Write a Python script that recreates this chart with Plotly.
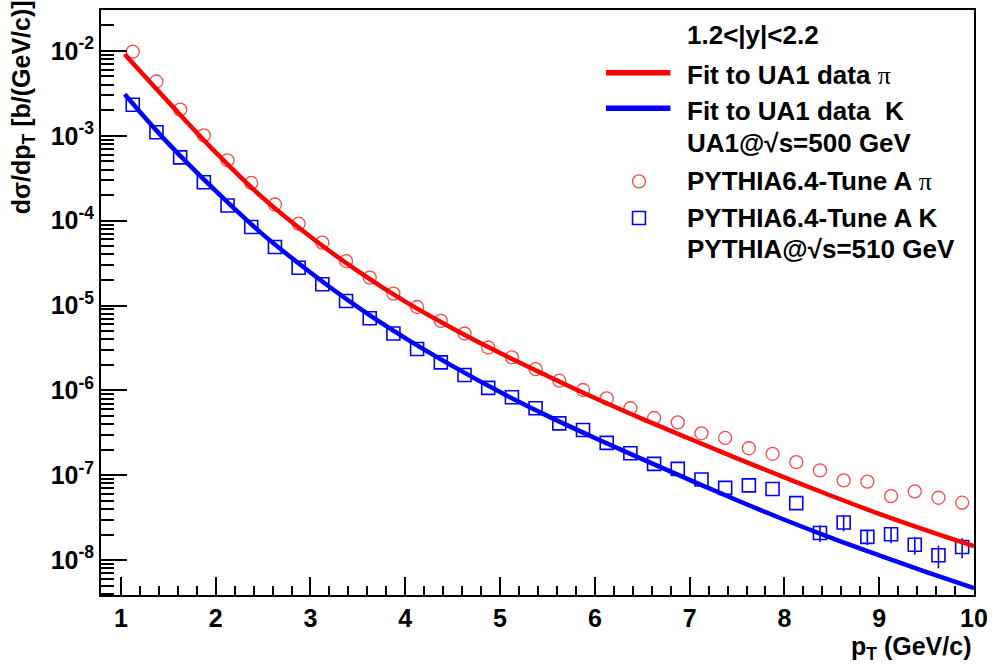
import plotly.graph_objects as go

# ---- PYTHIA 6.4 Tune A spectra (bin centres in pT, GeV/c) ----
pt = [1.125, 1.375, 1.625, 1.875, 2.125, 2.375, 2.625, 2.875, 3.125, 3.375,
      3.625, 3.875, 4.125, 4.375, 4.625, 4.875, 5.125, 5.375, 5.625, 5.875,
      6.125, 6.375, 6.625, 6.875, 7.125, 7.375, 7.625, 7.875, 8.125, 8.375,
      8.625, 8.875, 9.125, 9.375, 9.625, 9.875]

pythia_pi = [9.8e-3, 4.36e-3, 2.03e-3, 1.01e-3, 5.14e-4, 2.78e-4, 1.55e-4, 9.2e-5, 5.5e-5, 3.34e-5,
             2.13e-5, 1.38e-5, 9.6e-6, 6.6e-6, 4.68e-6, 3.2e-6, 2.45e-6, 1.78e-6, 1.30e-6, 1.01e-6,
             8.05e-7, 6.16e-7, 4.73e-7, 4.2e-7, 3.12e-7, 2.75e-7, 2.08e-7, 1.79e-7, 1.43e-7, 1.14e-7,
             8.7e-8, 8.4e-8, 5.68e-8, 6.45e-8, 5.43e-8, 4.75e-8]

pythia_k = [2.32e-3, 1.10e-3, 5.57e-4, 2.83e-4, 1.51e-4, 8.4e-5, 4.9e-5, 2.79e-5, 1.78e-5, 1.13e-5,
            7.08e-6, 4.68e-6, 3.07e-6, 2.14e-6, 1.52e-6, 1.07e-6, 8.3e-7, 6.15e-7, 4.09e-7, 3.42e-7,
            2.41e-7, 1.82e-7, 1.36e-7, 1.19e-7, 8.9e-8, 7.1e-8, 7.6e-8, 6.9e-8, 4.7e-8, 2.09e-8,
            2.78e-8, 1.88e-8, 2.02e-8, 1.52e-8, 1.14e-8, 1.43e-8]

pythia_k_err = [0, 0, 0, 0, 0, 0, 0, 0, 0, 0,
                0, 0, 0, 0, 0, 0, 0, 0, 0, 0,
                0, 0, 0, 0, 0, 0, 0, 0, 0, 4.6e-9,
                6.0e-9, 3.8e-9, 4.4e-9, 3.6e-9, 3.4e-9, 3.8e-9]

# ---- Fits to UA1 data (sampled along the fitted curves) ----
fit_pt = [1.04, 1.5, 2.0, 2.5, 3.0, 3.5, 4.0, 4.5, 5.0, 5.5,
          6.0, 6.5, 7.0, 7.5, 8.0, 8.5, 9.0, 9.5, 10.0]
fit_pi = [9.12e-3, 2.51e-3, 6.38e-4, 1.84e-4, 6.46e-5, 2.54e-5, 1.11e-5, 5.37e-6, 2.75e-6, 1.48e-6,
          8.13e-7, 4.62e-7, 2.69e-7, 1.58e-7, 9.44e-8, 5.69e-8, 3.51e-8, 2.24e-8, 1.46e-8]
fit_k = [3.09e-3, 8.13e-4, 2.24e-4, 6.84e-5, 2.45e-5, 9.55e-6, 4.12e-6, 1.93e-6, 9.55e-7, 5.01e-7,
         2.75e-7, 1.55e-7, 8.81e-8, 5.07e-8, 2.99e-8, 1.82e-8, 1.14e-8, 7.24e-9, 4.68e-9]

# ---- axis ticks ----
x_tick_vals = [1, 2, 3, 4, 5, 6, 7, 8, 9, 10]
y_tick_vals = [1e-8, 1e-7, 1e-6, 1e-5, 1e-4, 1e-3, 1e-2]
y_tick_text = ["10<sup>-8</sup>", "10<sup>-7</sup>", "10<sup>-6</sup>", "10<sup>-5</sup>",
               "10<sup>-4</sup>", "10<sup>-3</sup>", "10<sup>-2</sup>"]

RED = "#ff0000"
BLUE = "#0000ff"
FONT = "Liberation Sans"
W, H = 996, 669
ML, MR, MT, MB = 101, 15, 8, 74


def px(xp):
    return (xp - ML) / (W - ML - MR)


def py(yp):
    return (H - MB - yp) / (H - MT - MB)


fig = go.Figure()

fig.add_trace(go.Scatter(
    x=pt, y=pythia_pi, mode="markers", name="PYTHIA6.4-Tune A π",
    marker=dict(symbol="circle-open", size=13, color="rgba(255,40,40,0.85)",
                line=dict(width=1.3, color="rgba(255,40,40,0.85)")),
))
fig.add_trace(go.Scatter(
    x=pt, y=pythia_k, mode="markers", name="PYTHIA6.4-Tune A K",
    marker=dict(symbol="square-open", size=13, color=BLUE, line=dict(width=1.6, color=BLUE)),
    error_y=dict(type="data", array=pythia_k_err, visible=True, color=BLUE, thickness=1.6, width=0),
))
fig.add_trace(go.Scatter(
    x=fit_pt, y=fit_pi, mode="lines", name="Fit to UA1 data π",
    line=dict(color=RED, width=4.5, shape="spline", smoothing=1.0),
))
fig.add_trace(go.Scatter(
    x=fit_pt, y=fit_k, mode="lines", name="Fit to UA1 data K",
    line=dict(color=BLUE, width=4.5, shape="spline", smoothing=1.0),
))

axis_common = dict(
    showline=True, linecolor="black", linewidth=2, mirror=True,
    showgrid=False, zeroline=False, ticks="inside",
    tickcolor="black", tickwidth=1.5,
    tickfont=dict(family=FONT, size=25, color="black", weight="bold"),
)

fig.update_xaxes(
    range=[0.79, 10.0], tickmode="array", tickvals=x_tick_vals,
    ticklen=18,
    minor=dict(ticks="inside", ticklen=9, tickcolor="black", tickwidth=1.5,
               dtick=0.2, tick0=0, showgrid=False),
    **axis_common,
)
fig.update_yaxes(
    type="log", range=[-8.411, -1.518], tickmode="array",
    tickvals=y_tick_vals, ticktext=y_tick_text, ticklen=26,
    minor=dict(ticks="inside", ticklen=13, tickcolor="black", tickwidth=1.5,
               dtick="D1", showgrid=False),
    **axis_common,
)

annotations = []

# axis titles
annotations.append(dict(
    text="dσ/dp<sub>T</sub> [b/(GeV/c)]", xref="paper", yref="paper",
    x=px(22), y=py(106), textangle=-90, xanchor="center", yanchor="middle",
    showarrow=False, font=dict(family=FONT, size=25, color="black", weight="bold"),
))
annotations.append(dict(
    text="p<sub>T</sub> (GeV/c)", xref="paper", yref="paper",
    x=px(980), y=py(648), xanchor="right", yanchor="middle",
    showarrow=False, font=dict(family=FONT, size=25, color="black", weight="bold"),
))

# legend block
PI = "<span style='font-family:Liberation Serif;font-weight:normal'>π</span>"
legend_rows = [
    ("1.2&lt;|y|&lt;2.2", 33.3),
    ("Fit to UA1 data " + PI, 73.3),
    ("Fit to UA1 data\u00a0\u00a0K", 109.0),
    ("UA1@√s=500 GeV", 141.7),
    ("PYTHIA6.4-Tune A " + PI, 180.0),
    ("PYTHIA6.4-Tune A K", 216.7),
    ("PYTHIA@√s=510 GeV", 248.3),
]
for txt, yp in legend_rows:
    annotations.append(dict(
        text=txt, xref="paper", yref="paper", x=px(690), y=py(yp),
        xanchor="left", yanchor="middle", showarrow=False,
        font=dict(family=FONT, size=26, color="black", weight="bold"),
    ))

shapes = [
    dict(type="line", xref="paper", yref="paper", x0=px(610), x1=px(675),
         y0=py(71), y1=py(71), line=dict(color=RED, width=5.5)),
    dict(type="line", xref="paper", yref="paper", x0=px(610), x1=px(675),
         y0=py(106.7), y1=py(106.7), line=dict(color=BLUE, width=5.5)),
    dict(type="circle", xref="paper", yref="paper", x0=px(643.3 - 6.5), x1=px(643.3 + 6.5),
         y0=py(180 + 6.5), y1=py(180 - 6.5), line=dict(color="rgba(255,40,40,0.85)", width=1.3)),
    dict(type="rect", xref="paper", yref="paper", x0=px(643.3 - 6.5), x1=px(643.3 + 6.5),
         y0=py(216.7 + 6.5), y1=py(216.7 - 6.5), line=dict(color=BLUE, width=1.6)),
]

fig.update_layout(
    width=W, height=H,
    margin=dict(l=ML, r=MR, t=MT, b=MB),
    paper_bgcolor="white", plot_bgcolor="white",
    showlegend=False,
    font=dict(family=FONT, color="black"),
    annotations=annotations,
    shapes=shapes,
)

fig.write_html("out.html")
